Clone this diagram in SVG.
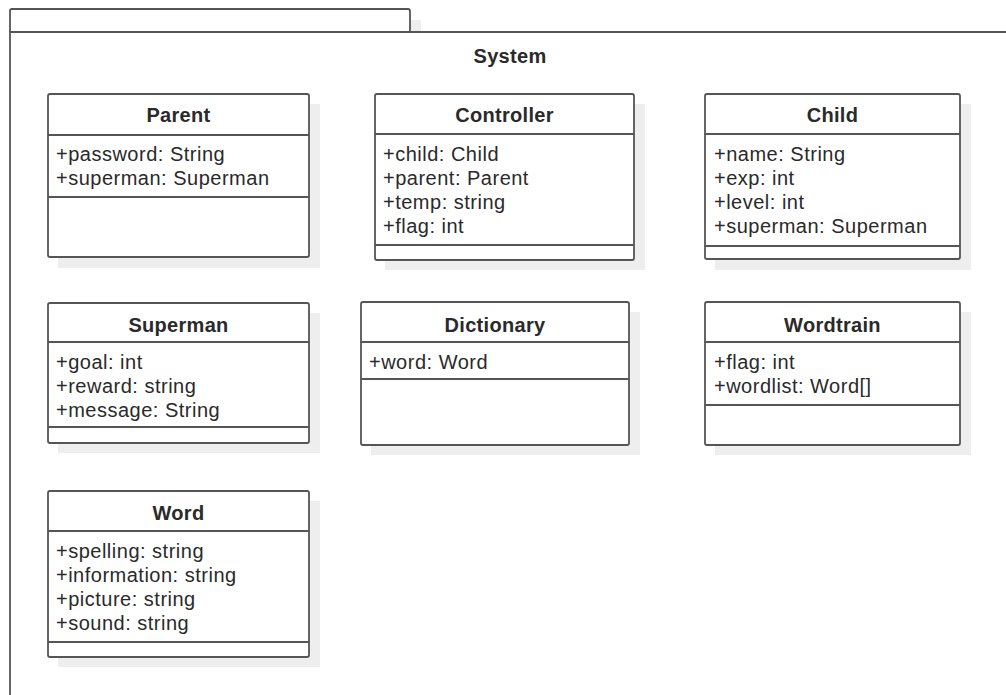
<svg xmlns="http://www.w3.org/2000/svg" width="1006" height="695" viewBox="0 0 1006 695">
<style>
.shadow{fill:#eeeeee;stroke:none}
.box{fill:#fff;stroke:#555;stroke-width:1.8}
.div{stroke:#555;stroke-width:1.8}
.pkg{fill:#fff;stroke:#555;stroke-width:1.8}
.title{font-family:"Liberation Sans",Arial,sans-serif;font-size:20px;font-weight:bold;fill:#2a2a2a;text-anchor:middle;letter-spacing:0.3px}
.attr{font-family:"Liberation Sans",Arial,sans-serif;font-size:20px;fill:#2a2a2a;letter-spacing:0.5px}
</style>
<rect x="0" y="0" width="1006" height="695" fill="#fff"/>
<g id="package-System">
  <rect class="shadow" x="411" y="20" width="10" height="12"/>
  <path class="pkg" d="M10,32 V11 Q10,9 12,9 H408 Q410,9 410,11 V32"/>
  <path class="pkg" d="M1008,32 H10 V700" fill="none"/>
  <text class="title" x="510" y="63">System</text>
</g>
<g id="Parent">
  <rect class="shadow" x="58" y="104" width="262" height="164"/>
  <rect class="box" x="48" y="94" width="261" height="163" rx="2"/>
  <line class="div" x1="48" y1="135" x2="309" y2="135"/>
  <line class="div" x1="48" y1="197" x2="309" y2="197"/>
  <text class="title" x="178.5" y="122">Parent</text>
  <text class="attr" x="56" y="161">+password: String</text>
  <text class="attr" x="56" y="185">+superman: Superman</text>
</g>
<g id="Controller">
  <rect class="shadow" x="385" y="104" width="260" height="166"/>
  <rect class="box" x="375" y="94" width="259" height="166" rx="2"/>
  <line class="div" x1="375" y1="134" x2="634" y2="134"/>
  <line class="div" x1="375" y1="245" x2="634" y2="245"/>
  <text class="title" x="504.5" y="122">Controller</text>
  <text class="attr" x="383" y="161">+child: Child</text>
  <text class="attr" x="383" y="185">+parent: Parent</text>
  <text class="attr" x="383" y="209">+temp: string</text>
  <text class="attr" x="383" y="233">+flag: int</text>
</g>
<g id="Child">
  <rect class="shadow" x="715" y="104" width="256" height="166"/>
  <rect class="box" x="705" y="94" width="255" height="165" rx="2"/>
  <line class="div" x1="705" y1="134" x2="960" y2="134"/>
  <line class="div" x1="705" y1="246" x2="960" y2="246"/>
  <text class="title" x="832.5" y="122">Child</text>
  <text class="attr" x="714" y="161">+name: String</text>
  <text class="attr" x="714" y="185">+exp: int</text>
  <text class="attr" x="714" y="209">+level: int</text>
  <text class="attr" x="714" y="233">+superman: Superman</text>
</g>
<g id="Superman">
  <rect class="shadow" x="58" y="313" width="262" height="140"/>
  <rect class="box" x="48" y="303" width="261" height="140" rx="2"/>
  <line class="div" x1="48" y1="342" x2="309" y2="342"/>
  <line class="div" x1="48" y1="427" x2="309" y2="427"/>
  <text class="title" x="178.5" y="332">Superman</text>
  <text class="attr" x="56" y="369">+goal: int</text>
  <text class="attr" x="56" y="393">+reward: string</text>
  <text class="attr" x="56" y="417">+message: String</text>
</g>
<g id="Dictionary">
  <rect class="shadow" x="371" y="312" width="269" height="143"/>
  <rect class="box" x="361" y="302" width="268" height="143" rx="2"/>
  <line class="div" x1="361" y1="342" x2="629" y2="342"/>
  <line class="div" x1="361" y1="379" x2="629" y2="379"/>
  <text class="title" x="495" y="332">Dictionary</text>
  <text class="attr" x="369" y="369">+word: Word</text>
</g>
<g id="Wordtrain">
  <rect class="shadow" x="715" y="312" width="256" height="143"/>
  <rect class="box" x="705" y="302" width="255" height="143" rx="2"/>
  <line class="div" x1="705" y1="342" x2="960" y2="342"/>
  <line class="div" x1="705" y1="405" x2="960" y2="405"/>
  <text class="title" x="832.5" y="332">Wordtrain</text>
  <text class="attr" x="714" y="369">+flag: int</text>
  <text class="attr" x="714" y="393">+wordlist: Word[]</text>
</g>
<g id="Word">
  <rect class="shadow" x="58" y="501" width="262" height="166"/>
  <rect class="box" x="48" y="491" width="261" height="166" rx="2"/>
  <line class="div" x1="48" y1="531" x2="309" y2="531"/>
  <line class="div" x1="48" y1="642" x2="309" y2="642"/>
  <text class="title" x="178.5" y="520">Word</text>
  <text class="attr" x="56" y="558">+spelling: string</text>
  <text class="attr" x="56" y="582">+information: string</text>
  <text class="attr" x="56" y="606">+picture: string</text>
  <text class="attr" x="56" y="630">+sound: string</text>
</g>
<g id="connectors"></g>
</svg>
